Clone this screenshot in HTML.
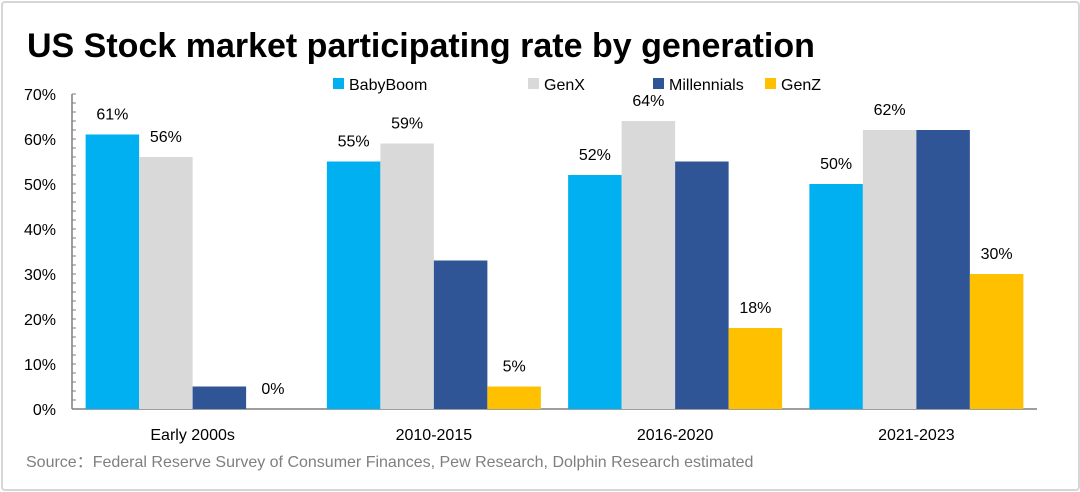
<!DOCTYPE html>
<html><head><meta charset="utf-8"><style>
body{margin:0;background:#fff}
#wrap{position:relative;width:1080px;height:492px;overflow:hidden;font-family:"Liberation Sans","DejaVu Sans",sans-serif}
#frame{position:absolute;left:1px;top:1px;width:1075px;height:486px;border:2px solid #d6d6d6;border-radius:4px}
</style></head><body>
<div id="wrap">
<div id="frame"></div>
<svg id="svg" width="1080" height="492" style="position:absolute;left:0;top:0">
<text x="27" y="57" font-size="34" font-weight="bold" fill="#000">US Stock market participating rate by generation</text>
<text x="26" y="467" font-size="16" fill="#7f7f7f">Source：Federal Reserve Survey of Consumer Finances, Pew Research, Dolphin Research estimated</text>
</svg>
</div>
<script>
const categories=["Early 2000s","2010-2015","2016-2020","2021-2023"];
const series=["BabyBoom","GenX","Millennials","GenZ"];
const colors=["#00b0f0","#d9d9d9","#2f5597","#ffc000"];
const babyBoom=[61,55,52,50];
const genX=[56,59,64,62];
const millennials=[5,33,55,62];
const genZ=[0,5,18,30];
const showLabel=[[1,1,1,1],[1,1,1,1],[0,0,0,0],[1,1,1,1]];
const yTicks=[0,10,20,30,40,50,60,70];
const values=[babyBoom,genX,millennials,genZ];
const svg=document.getElementById('svg');
const NS='http://www.w3.org/2000/svg';
const x0=72,x1=1037,yb=409,yt=94;
const y=v=>yb-(v/70)*(yb-yt);
const gw=(x1-x0)/categories.length, bw=53.5;
function mk(t,a){const e=document.createElementNS(NS,t);for(const k in a)e.setAttribute(k,a[k]);svg.appendChild(e);return e;}
let ax=mk('line',{x1:x0,y1:yt,x2:x0,y2:yb,stroke:'#7f7f7f','stroke-width':1.5});


for(let v=0;v<=70;v+=2){let t=mk('line',{x1:x0,y1:y(v),x2:x0+4,y2:y(v),stroke:'#7f7f7f','stroke-width':1});

}
let xa=mk('line',{x1:x0,y1:yb,x2:x1,y2:yb,stroke:'#7f7f7f','stroke-width':1.5});


yTicks.forEach(v=>{let t=mk('text',{x:56,y:y(v)+6,'font-size':16,'text-anchor':'end',fill:'#000'});t.textContent=v+'%';

});
categories.forEach((c,i)=>{
 const gx=x0+gw*i+(gw-4*bw)/2;
 values.forEach((arr,s)=>{
  const v=arr[i],bx=gx+s*bw;
  let r=mk('rect',{x:bx,y:y(v),width:bw,height:yb-y(v),fill:colors[s]});
  
  
  if(showLabel[s][i]){let t=mk('text',{x:bx+bw/2,y:y(v)-15,'font-size':16,'text-anchor':'middle',fill:'#000'});t.textContent=v+'%';
  
  }
 });
 let t=mk('text',{x:x0+gw*i+gw/2,y:440,'font-size':16,'text-anchor':'middle',fill:'#000'});t.textContent=c;
 
 
});
const lx=[333,528,653,765];
series.forEach((s,i)=>{
 let r=mk('rect',{x:lx[i],y:78,width:11,height:11,fill:colors[i]});
 
 
 let t=mk('text',{x:lx[i]+16,y:90,'font-size':16,fill:'#000'});t.textContent=s;
 
 
});
</script>
</body></html>
